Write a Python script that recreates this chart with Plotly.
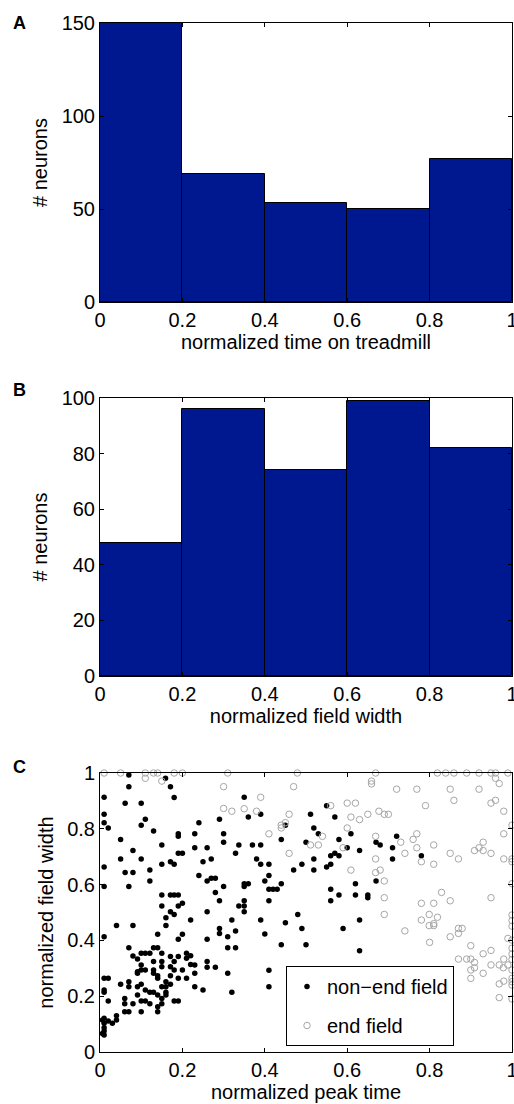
import plotly.graph_objects as go

# ---------------- data ----------------
bin_centers = [0.1, 0.3, 0.5, 0.7, 0.9]
bin_width = 0.2
counts_time = [150, 69, 53, 50, 77]        # panel A
counts_width = [48, 96, 74, 99, 82]        # panel B

nonend_x = [0.070, 0.159, 0.070, 0.171, 0.010, 0.180, 0.061, 0.100, 0.010, 0.110, 0.290, 0.010, 0.240, 0.100, 0.020, 0.130, 0.190, 0.230, 0.300, 0.190, 0.050, 0.300, 0.150, 0.337, 0.230, 0.260, 0.080, 0.190, 0.200, 0.329, 0.050, 0.100, 0.270, 0.171, 0.250, 0.150, 0.180, 0.010, 0.121, 0.061, 0.080, 0.240, 0.270, 0.280, 0.121, 0.260, 0.010, 0.070, 0.300, 0.280, 0.150, 0.171, 0.180, 0.190, 0.290, 0.200, 0.150, 0.190, 0.337,
            0.350, 0.550, 0.360, 0.390, 0.511, 0.570, 0.450, 0.519, 0.530, 0.609, 0.440, 0.580, 0.500, 0.670, 0.370, 0.390, 0.600, 0.630, 0.570, 0.560, 0.580, 0.380, 0.519, 0.390, 0.410, 0.490, 0.560, 0.550, 0.470, 0.519, 0.410, 0.400, 0.670, 0.350, 0.360, 0.440, 0.620, 0.350, 0.410, 0.420, 0.430, 0.560, 0.580, 0.620, 0.650, 0.650, 0.350, 0.410, 0.560, 0.350,
            0.720, 0.680, 0.710, 0.780, 0.710,
            0.171, 0.180, 0.160, 0.260, 0.220, 0.320, 0.040, 0.080, 0.160, 0.290, 0.290, 0.329, 0.140, 0.200, 0.010, 0.310, 0.190, 0.260, 0.310, 0.329, 0.070, 0.130, 0.140, 0.080, 0.100, 0.110, 0.121, 0.150, 0.210, 0.091, 0.130, 0.150, 0.171, 0.190, 0.210, 0.220, 0.220, 0.260, 0.260, 0.280, 0.100, 0.100, 0.150, 0.171, 0.180, 0.091, 0.091, 0.110, 0.130, 0.130, 0.180, 0.200, 0.230, 0.230, 0.310, 0.010, 0.020, 0.140, 0.140, 0.171, 0.190, 0.210, 0.160, 0.171, 0.050, 0.070, 0.070, 0.091, 0.100, 0.150, 0.160, 0.230, 0.250, 0.320, 0.010, 0.010, 0.110, 0.121, 0.130, 0.140, 0.160, 0.160, 0.091, 0.020, 0.060, 0.100, 0.110, 0.121, 0.150, 0.150, 0.180, 0.190, 0.060, 0.080, 0.140, 0.140, 0.060, 0.070, 0.100, 0.010, 0.020, 0.030, 0.040, 0.040, 0.010, 0.010, 0.010, 0.010, 0.006, 0.006,
            0.350, 0.390, 0.450, 0.480, 0.490, 0.590, 0.630, 0.400, 0.440, 0.500, 0.630, 0.410, 0.410]
nonend_y = [0.993, 0.981, 0.951, 0.951, 0.913, 0.912, 0.892, 0.892, 0.852, 0.834, 0.834, 0.822, 0.822, 0.813, 0.803, 0.792, 0.782, 0.782, 0.782, 0.773, 0.762, 0.752, 0.742, 0.742, 0.732, 0.732, 0.722, 0.712, 0.712, 0.712, 0.692, 0.692, 0.692, 0.682, 0.682, 0.673, 0.673, 0.663, 0.652, 0.643, 0.643, 0.633, 0.623, 0.623, 0.613, 0.613, 0.593, 0.593, 0.593, 0.572, 0.563, 0.563, 0.563, 0.563, 0.542, 0.533, 0.523, 0.523, 0.523,
            0.913, 0.883, 0.842, 0.852, 0.852, 0.842, 0.813, 0.803, 0.782, 0.782, 0.762, 0.762, 0.752, 0.752, 0.742, 0.742, 0.732, 0.722, 0.712, 0.703, 0.703, 0.692, 0.692, 0.673, 0.673, 0.673, 0.673, 0.663, 0.652, 0.652, 0.633, 0.613, 0.613, 0.603, 0.603, 0.603, 0.603, 0.593, 0.583, 0.583, 0.583, 0.583, 0.563, 0.563, 0.563, 0.553, 0.542, 0.542, 0.542, 0.523,
            0.773, 0.742, 0.732, 0.703, 0.692,
            0.503, 0.493, 0.481, 0.503, 0.473, 0.473, 0.453, 0.453, 0.453, 0.443, 0.425, 0.434, 0.422, 0.422, 0.413, 0.413, 0.404, 0.404, 0.374, 0.374, 0.374, 0.374, 0.374, 0.344, 0.354, 0.354, 0.354, 0.354, 0.354, 0.333, 0.324, 0.324, 0.342, 0.342, 0.336, 0.345, 0.314, 0.324, 0.304, 0.304, 0.312, 0.294, 0.306, 0.306, 0.324, 0.288, 0.282, 0.294, 0.294, 0.282, 0.294, 0.294, 0.312, 0.282, 0.282, 0.264, 0.264, 0.273, 0.264, 0.273, 0.264, 0.264, 0.252, 0.243, 0.243, 0.252, 0.234, 0.234, 0.243, 0.234, 0.234, 0.234, 0.222, 0.214, 0.222, 0.214, 0.222, 0.214, 0.214, 0.204, 0.214, 0.204, 0.204, 0.183, 0.192, 0.183, 0.183, 0.173, 0.192, 0.173, 0.183, 0.183, 0.173, 0.173, 0.162, 0.144, 0.144, 0.144, 0.144, 0.121, 0.111, 0.103, 0.115, 0.130, 0.103, 0.087, 0.075, 0.061, 0.115, 0.066,
            0.503, 0.473, 0.463, 0.493, 0.443, 0.443, 0.473, 0.423, 0.384, 0.384, 0.363, 0.293, 0.234]

end_x = [0.010, 0.050, 0.110, 0.130, 0.140, 0.180, 0.200, 0.310, 0.479, 0.669, 0.819, 0.839, 0.859, 0.890, 0.920, 0.949, 0.960, 0.990,
         0.110, 0.150, 0.300, 0.300, 0.320,
         0.659, 0.659, 0.470, 0.390, 0.350, 0.380, 0.560, 0.600, 0.620, 0.459, 0.609, 0.630, 0.650, 0.677, 0.440, 0.440, 0.450, 0.600, 0.410, 0.540, 0.669, 0.511, 0.530, 0.590, 0.459, 0.669, 0.609, 0.669,
         0.960, 0.969, 0.720, 0.769, 0.850, 0.920, 0.859, 0.949, 0.960, 0.790, 0.980, 0.690, 0.700, 0.980, 0.769, 0.760, 0.730, 0.769, 0.810, 0.930, 0.920, 0.909, 0.930, 0.949, 0.850, 0.740, 0.870, 0.780, 0.810, 0.980, 0.680, 0.690, 0.829, 0.690, 0.850, 0.949, 0.780, 0.810,
         0.690, 0.799, 0.819, 0.780, 0.799, 0.810, 0.810, 0.870, 0.879, 0.740, 0.870, 0.850, 0.800, 0.900, 0.949, 0.930, 0.870, 0.890, 0.900, 0.909, 0.949, 0.969, 0.980, 0.909, 0.900, 0.979, 0.930, 0.900, 0.980, 0.969, 0.969,
         1.0, 1.0, 1.0, 1.0, 1.0, 1.0, 1.0, 1.0, 1.0, 1.0, 1.0, 1.0, 1.0, 1.0, 1.0, 1.0, 0.990, 0.990]
end_y = [1.0, 1.0, 1.0, 1.0, 1.0, 1.0, 1.0, 1.0, 1.0, 1.0, 1.0, 1.0, 1.0, 1.0, 1.0, 1.0, 1.0, 1.0,
         0.981, 0.971, 0.951, 0.873, 0.863,
         0.971, 0.961, 0.951, 0.913, 0.872, 0.863, 0.883, 0.892, 0.892, 0.852, 0.842, 0.833, 0.852, 0.863, 0.813, 0.803, 0.822, 0.803, 0.782, 0.773, 0.773, 0.742, 0.742, 0.732, 0.712, 0.692, 0.652, 0.643,
         0.981, 0.962, 0.942, 0.942, 0.942, 0.942, 0.902, 0.892, 0.902, 0.883, 0.863, 0.852, 0.852, 0.782, 0.782, 0.762, 0.752, 0.732, 0.742, 0.752, 0.732, 0.722, 0.722, 0.712, 0.712, 0.712, 0.692, 0.682, 0.673, 0.692, 0.652, 0.613, 0.572, 0.553, 0.542, 0.553, 0.533, 0.533,
         0.493, 0.493, 0.483, 0.473, 0.453, 0.453, 0.460, 0.443, 0.443, 0.434, 0.425, 0.413, 0.393, 0.381, 0.364, 0.352, 0.333, 0.333, 0.333, 0.321, 0.312, 0.312, 0.333, 0.302, 0.294, 0.302, 0.282, 0.264, 0.254, 0.244, 0.195,
         0.813, 0.692, 0.682, 0.603, 0.491, 0.471, 0.451, 0.401, 0.372, 0.351, 0.332, 0.294, 0.264, 0.252, 0.240, 0.190, 0.407, 0.312]

x_ticks = [0, 0.2, 0.4, 0.6, 0.8, 1]
yA_ticks = [0, 50, 100, 150]
yB_ticks = [0, 20, 40, 60, 80, 100]
yC_ticks = [0, 0.2, 0.4, 0.6, 0.8, 1]

# ---------------- figure ----------------
FONT = "Liberation Sans, Arial, Helvetica, sans-serif"
BAR = "#00188F"
GREY = "#a6a6a6"
FS = 20
W, H = 514, 1104
L, R, T, B = 100, 2, 23, 52
PH = H - T - B


def py2paper(py):
    return (H - B - py) / PH


def px2paper(px):
    return (px - L) / (W - L - R)


fig = go.Figure()
fig.add_trace(go.Bar(x=bin_centers, y=counts_time, width=bin_width,
                     marker=dict(color=BAR, line=dict(color="black", width=1)),
                     xaxis="x", yaxis="y", showlegend=False))
fig.add_trace(go.Bar(x=bin_centers, y=counts_width, width=bin_width,
                     marker=dict(color=BAR, line=dict(color="black", width=1)),
                     xaxis="x2", yaxis="y2", showlegend=False))
fig.add_trace(go.Scatter(x=nonend_x, y=nonend_y, mode="markers", name="non\u2212end field",
                         marker=dict(color="black", size=5.5),
                         xaxis="x3", yaxis="y3", cliponaxis=False, legendgroup="a"))
fig.add_trace(go.Scatter(x=end_x, y=end_y, mode="markers", name="end field",
                         marker=dict(color=GREY, size=6.5, symbol="circle-open",
                                     line=dict(color=GREY, width=1)),
                         xaxis="x3", yaxis="y3", cliponaxis=False, legendgroup="b"))

axis_common = dict(showline=True, linecolor="black", linewidth=1, mirror="ticks",
                   ticks="inside", ticklen=4, tickcolor="black", showgrid=False,
                   zeroline=False, ticklabeloverflow="allow", automargin=False,
                   tickfont=dict(size=FS, color="black", family=FONT),
                   title_font=dict(size=FS, color="black", family=FONT))

dA = [py2paper(302), py2paper(23)]
dB = [py2paper(676), py2paper(398)]
dC = [py2paper(1052), py2paper(773)]

fig.update_layout(
    width=W, height=H, margin=dict(l=L, r=R, t=T, b=B, autoexpand=False),
    plot_bgcolor="white", paper_bgcolor="white", bargap=0,
    font=dict(family=FONT, color="black", size=FS),
    xaxis=dict(axis_common, domain=[0, 1], range=[0, 1], tickvals=x_ticks, anchor="y",
               title=dict(text="normalized time on treadmill", standoff=4)),
    yaxis=dict(axis_common, domain=dA, range=[0, 150], tickvals=yA_ticks, anchor="x",
               title=dict(text="# neurons", standoff=8)),
    xaxis2=dict(axis_common, domain=[0, 1], range=[0, 1], tickvals=x_ticks, anchor="y2",
                title=dict(text="normalized field width", standoff=4)),
    yaxis2=dict(axis_common, domain=dB, range=[0, 100], tickvals=yB_ticks, anchor="x2",
                title=dict(text="# neurons", standoff=8)),
    xaxis3=dict(axis_common, domain=[0, 1], range=[0, 1], tickvals=x_ticks, anchor="y3",
                title=dict(text="normalized peak time", standoff=4)),
    yaxis3=dict(axis_common, domain=dC, range=[0, 1], tickvals=yC_ticks, anchor="x3",
                title=dict(text="normalized field width", standoff=8)),
    legend=dict(x=px2paper(286), y=py2paper(966), xanchor="left", yanchor="top",
                bordercolor="black", borderwidth=1, bgcolor="white",
                font=dict(size=FS, family=FONT, color="black"), tracegroupgap=10),
)

for letter, py in [("A", 23), ("B", 390), ("C", 767)]:
    fig.add_annotation(text=f"<b>{letter}</b>", x=px2paper(11), y=py2paper(py),
                       xref="paper", yref="paper", xanchor="left", yanchor="middle",
                       showarrow=False, font=dict(size=18, family=FONT, color="black"))

fig.write_html("out.html")
